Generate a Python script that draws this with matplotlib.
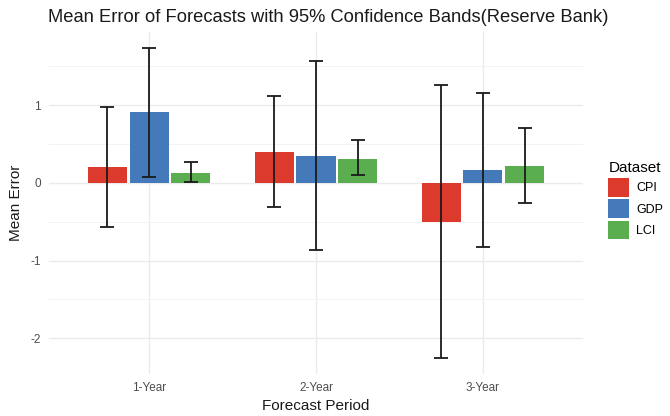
import matplotlib
matplotlib.use("Agg")
import matplotlib.pyplot as plt
import numpy as np
from matplotlib.patches import Patch

plt.rcParams['font.family'] = ['Liberation Sans', 'DejaVu Sans']

periods = ["1-Year", "2-Year", "3-Year"]
datasets = ["CPI", "GDP", "LCI"]
colors = ["#DC3A2C", "#4479BA", "#5BAE4F"]

mean_cpi = [0.20, 0.40, -0.50]
mean_gdp = [0.91, 0.35, 0.16]
mean_lci = [0.125, 0.31, 0.215]

lo_cpi = [-0.57, -0.31, -2.26]
hi_cpi = [0.98, 1.12, 1.26]
lo_gdp = [0.08, -0.87, -0.82]
hi_gdp = [1.74, 1.57, 1.16]
lo_lci = [0.005, 0.094, -0.26]
hi_lci = [0.27, 0.55, 0.70]

means = [mean_cpi, mean_gdp, mean_lci]
los = [lo_cpi, lo_gdp, lo_lci]
his = [hi_cpi, hi_gdp, hi_lci]

fig = plt.figure(figsize=(6.7, 4.16), dpi=100)
ax = fig.add_axes([49/670, 1 - 374/416, (583-49)/670, (374-32)/416])

x = np.arange(len(periods)) + 1
offset = 0.25
width = 0.235
for i, (m, lo, hi, c) in enumerate(zip(means, los, his, colors)):
    xs = x + (i - 1) * offset
    ax.bar(xs, m, width=width, color=c, zorder=2)
    m_arr = np.array(m)
    yerr = [m_arr - np.array(lo), np.array(hi) - m_arr]
    ax.errorbar(xs, m, yerr=yerr, fmt='none', ecolor='#1a1a1a', elinewidth=1.3,
                capsize=5, capthick=1.3, zorder=3)

ax.set_xlim(0.4, 3.6)
ax.set_ylim(-2.46, 1.94)
ax.set_xticks(x)
ax.set_xticklabels(periods)
ax.set_yticks([-2, -1, 0, 1])
ax.set_yticklabels(["-2", "-1", "0", "1"])
ax.set_yticks([-1.5, -0.5, 0.5, 1.5], minor=True)
ax.grid(True, which='major', color='#EBEBEB', linewidth=1.0, zorder=0)
ax.grid(True, which='minor', axis='y', color='#F3F3F3', linewidth=0.7, zorder=0)
ax.set_axisbelow(True)
for s in ax.spines.values():
    s.set_visible(False)
ax.tick_params(axis='both', which='both', length=0, labelsize=8.5, labelcolor='#4D4D4D', pad=6)
ax.set_xlabel("Forecast Period", fontsize=11, color='#1a1a1a', labelpad=3)
ax.set_ylabel("Mean Error", fontsize=11, color='#1a1a1a', labelpad=5)

fig.text(48/670, 1 - 17/416, "Mean Error of Forecasts with 95% Confidence Bands(Reserve Bank)",
         fontsize=13.2, color='#1a1a1a', va='center', ha='left')

handles = [Patch(facecolor=c, edgecolor='none') for c in colors]
leg = fig.legend(handles, datasets, title="Dataset", loc='upper left',
                 bbox_to_anchor=(597/670, 1 - 150/416), frameon=False,
                 fontsize=9, title_fontsize=11, handlelength=1.65, handleheight=1.95,
                 handletextpad=0.6, labelspacing=0.2)
leg._legend_box.align = "left"

fig.savefig("out.png", dpi=100)
